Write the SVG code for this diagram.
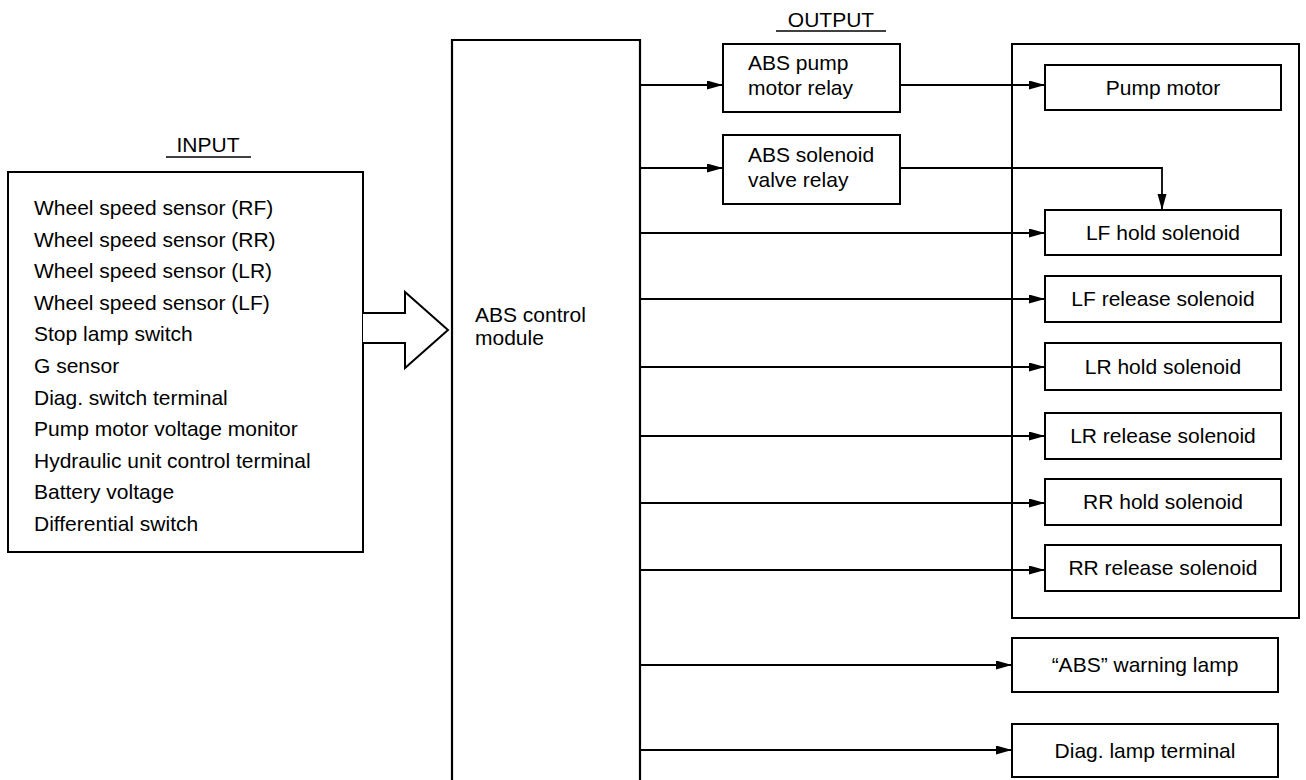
<svg xmlns="http://www.w3.org/2000/svg" width="1306" height="780" viewBox="0 0 1306 780">
<style>
text{font-family:"Liberation Sans",Arial,Helvetica,sans-serif;font-size:21px;fill:#000}
.box{fill:#fff;stroke:#000;stroke-width:2}
.ln{fill:none;stroke:#000;stroke-width:1.8}
.mid{text-anchor:middle}
</style>
<defs>
<marker id="ah" markerUnits="userSpaceOnUse" markerWidth="18" markerHeight="10" refX="16" refY="4.5" orient="auto">
<path d="M0,0 L16,4.5 L0,9 Z" fill="#000"/>
</marker>
</defs>
<rect width="1306" height="780" fill="#fff"/>

<g id="input-label">
<text x="208" y="152" class="mid">INPUT</text>
<line x1="166" y1="157" x2="251" y2="157" stroke="#000" stroke-width="1.5"/>
</g>
<g id="output-label">
<text x="831" y="27" class="mid">OUTPUT</text>
<line x1="776" y1="31" x2="886" y2="31" stroke="#000" stroke-width="1.5"/>
</g>

<g id="input">
<rect class="box" x="8" y="172" width="355" height="380"/>
<text x="34" y="215">Wheel speed sensor (RF)</text>
<text x="34" y="246.6">Wheel speed sensor (RR)</text>
<text x="34" y="278.2">Wheel speed sensor (LR)</text>
<text x="34" y="309.8">Wheel speed sensor (LF)</text>
<text x="34" y="341.4">Stop lamp switch</text>
<text x="34" y="373">G sensor</text>
<text x="34" y="404.6">Diag. switch terminal</text>
<text x="34" y="436.2">Pump motor voltage monitor</text>
<text x="34" y="467.8">Hydraulic unit control terminal</text>
<text x="34" y="499.4">Battery voltage</text>
<text x="34" y="531">Differential switch</text>
</g>

<g id="abs-module">
<path class="ln" style="stroke-width:2.2" d="M452,780 V40 H640 V780"/>
<text x="475" y="322">ABS control</text>
<text x="475" y="345">module</text>
</g>

<g id="pump-relay">
<rect class="box" x="723" y="44" width="177" height="68"/>
<text x="748" y="70">ABS pump</text>
<text x="748" y="95">motor relay</text>
</g>
<g id="solenoid-relay">
<rect class="box" x="723" y="135" width="177" height="69"/>
<text x="748" y="162">ABS solenoid</text>
<text x="748" y="187">valve relay</text>
</g>

<g id="hydraulic-unit">
<rect class="box" x="1012" y="44" width="287" height="574"/>
</g>
<g id="pump-motor">
<rect class="box" x="1045" y="65" width="236" height="45"/>
<text x="1163" y="95" class="mid">Pump motor</text>
</g>
<g id="lf-hold">
<rect class="box" x="1045" y="210" width="236" height="45"/>
<text x="1163" y="240" class="mid">LF hold solenoid</text>
</g>
<g id="lf-release">
<rect class="box" x="1045" y="276" width="236" height="46"/>
<text x="1163" y="306" class="mid">LF release solenoid</text>
</g>
<g id="lr-hold">
<rect class="box" x="1045" y="343" width="236" height="47"/>
<text x="1163" y="374" class="mid">LR hold solenoid</text>
</g>
<g id="lr-release">
<rect class="box" x="1045" y="413" width="236" height="46"/>
<text x="1163" y="443" class="mid">LR release solenoid</text>
</g>
<g id="rr-hold">
<rect class="box" x="1045" y="479" width="236" height="46"/>
<text x="1163" y="509" class="mid">RR hold solenoid</text>
</g>
<g id="rr-release">
<rect class="box" x="1045" y="545" width="236" height="46"/>
<text x="1163" y="575" class="mid">RR release solenoid</text>
</g>
<g id="warning-lamp">
<rect class="box" x="1012" y="638" width="266" height="54"/>
<text x="1145" y="672" class="mid">“ABS” warning lamp</text>
</g>
<g id="diag-lamp">
<rect class="box" x="1012" y="724" width="266" height="53"/>
<text x="1145" y="758" class="mid">Diag. lamp terminal</text>
</g>

<g id="connectors">
<path d="M363,313 H405 V292 L448,330 L405,368 V343 H363" fill="#fff" stroke="#000" stroke-width="2"/>
<line class="ln" x1="640" y1="85" x2="723" y2="85" marker-end="url(#ah)"/>
<line class="ln" x1="640" y1="168" x2="723" y2="168" marker-end="url(#ah)"/>
<line class="ln" x1="900" y1="85" x2="1045" y2="85" marker-end="url(#ah)"/>
<path class="ln" d="M900,168 H1162 V210" marker-end="url(#ah)"/>
<line class="ln" x1="640" y1="233" x2="1045" y2="233" marker-end="url(#ah)"/>
<line class="ln" x1="640" y1="299" x2="1045" y2="299" marker-end="url(#ah)"/>
<line class="ln" x1="640" y1="367" x2="1045" y2="367" marker-end="url(#ah)"/>
<line class="ln" x1="640" y1="436" x2="1045" y2="436" marker-end="url(#ah)"/>
<line class="ln" x1="640" y1="503" x2="1045" y2="503" marker-end="url(#ah)"/>
<line class="ln" x1="640" y1="570" x2="1045" y2="570" marker-end="url(#ah)"/>
<line class="ln" x1="640" y1="665" x2="1012" y2="665" marker-end="url(#ah)"/>
<line class="ln" x1="640" y1="750" x2="1012" y2="750" marker-end="url(#ah)"/>
</g>
</svg>
